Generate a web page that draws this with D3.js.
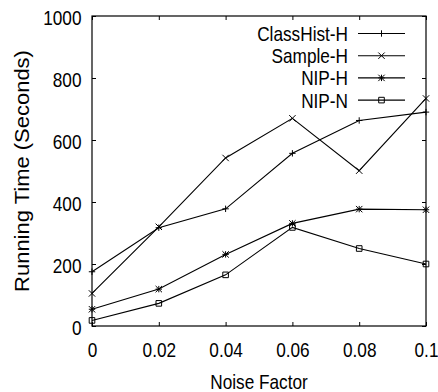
<!DOCTYPE html>
<html>
<head>
<meta charset="utf-8">
<script src="https://cdn.jsdelivr.net/npm/d3@7"></script>
<style>
  body { margin: 0; background: #fff; }
  svg text { font-family: "Liberation Sans", Arial, sans-serif; fill: #000; }
</style>
</head>
<body>
<div id="chart"></div>
<script>
// data
const noise = [0, 0.02, 0.04, 0.06, 0.08, 0.1];
const classHistH = [175, 317, 378, 557, 663, 690];
const sampleH = [105, 320, 542, 670, 501, 734];
const nipH = [54, 119, 231, 331, 377, 375];
const nipN = [18, 73, 165, 318, 250, 200];
const xTicks = [0, 0.02, 0.04, 0.06, 0.08, 0.1];
const yTicks = [0, 200, 400, 600, 800, 1000];

const series = [
  { name: 'ClassHist-H', values: classHistH, mark: 'plus' },
  { name: 'Sample-H', values: sampleH, mark: 'cross' },
  { name: 'NIP-H', values: nipH, mark: 'star' },
  { name: 'NIP-N', values: nipN, mark: 'square' }
];

const W = 438, H = 392;
const margin = { top: 16, right: 12, bottom: 66, left: 92 };
const width = W - margin.left - margin.right;
const height = H - margin.top - margin.bottom;
const squeeze = 0.82; // condensed look of the original font
const fs = 21;

const svg = d3.select('#chart').append('svg')
  .attr('width', W)
  .attr('height', H);

const g = svg.append('g').attr('transform', `translate(${margin.left},${margin.top})`);

const x = d3.scaleLinear().domain([0, 0.1]).range([0, width]);
const y = d3.scaleLinear().domain([0, 1000]).range([height, 0]);

// axes
const fmtX = d => d === 0 ? '0' : d3.format('~g')(d);

const yAxis = g.append('g').call(d3.axisLeft(y).tickValues(yTicks).tickFormat(d3.format('d')).tickSize(-4).tickSizeOuter(0));
yAxis.selectAll('text')
  .attr('x', -10.5 / squeeze)
  .attr('dy', null)
  .attr('y', 8)
  .attr('transform', `scale(${squeeze},1)`)
  .style('font-size', fs + 'px');

const xAxis = g.append('g').attr('transform', `translate(0,${height})`)
  .call(d3.axisBottom(x).tickValues(xTicks).tickFormat(fmtX).tickSize(-4).tickSizeOuter(0));
xAxis.selectAll('text')
  .attr('y', 31)
  .attr('dy', null)
  .attr('transform', `scale(${squeeze},1)`)
  .style('font-size', fs + 'px');

g.append('g').call(d3.axisRight(y).tickValues(yTicks).tickSize(-4).tickFormat(''))
  .attr('transform', `translate(${width},0)`);
g.append('g').call(d3.axisTop(x).tickValues(xTicks).tickSize(-4).tickFormat(''));

g.selectAll('.domain').remove();
g.selectAll('.tick line').attr('stroke', '#000').attr('stroke-width', 1);

g.append('rect')
  .attr('width', width)
  .attr('height', height)
  .attr('fill', 'none')
  .attr('stroke', '#000')
  .attr('stroke-width', 1.2);

// axis titles
svg.append('text')
  .attr('transform', `translate(${margin.left + width / 2},389) scale(${squeeze},1)`)
  .attr('text-anchor', 'middle')
  .style('font-size', fs + 'px')
  .text('Noise Factor');

svg.append('text')
  .attr('transform', `translate(29,${margin.top + height / 2}) rotate(-90) scale(1,0.9)`)
  .attr('text-anchor', 'middle')
  .style('font-size', '22px')
  .text('Running Time (Seconds)');

// marker shapes
function markPath(type) {
  const s = 3.2;
  switch (type) {
    case 'plus': return `M${-s},0H${s}M0,${-s}V${s}`;
    case 'cross': return `M${-s},${-s}L${s},${s}M${-s},${s}L${s},${-s}`;
    case 'star': return `M${-s},0H${s}M0,${-s}V${s}M${-s},${-s}L${s},${s}M${-s},${s}L${s},${-s}`;
    default: return `M${-2.8},${-2.8}H2.8V2.8H-2.8Z`;
  }
}

const line = d3.line()
  .x((d, i) => x(noise[i]))
  .y(d => y(d));

series.forEach(s => {
  g.append('path')
    .attr('d', line(s.values))
    .attr('fill', 'none')
    .attr('stroke', '#000')
    .attr('stroke-width', 1.1);
  g.selectAll(null)
    .data(s.values)
    .join('path')
    .attr('transform', (d, i) => `translate(${x(noise[i])},${y(d)})`)
    .attr('d', markPath(s.mark))
    .attr('fill', 'none')
    .attr('stroke', '#000')
    .attr('stroke-width', 1);
});

// legend
const legend = svg.append('g');
series.forEach((s, i) => {
  const ly = 33.5 + i * 22.2;
  legend.append('text')
    .attr('transform', `translate(348,${ly + 7.5}) scale(${squeeze},1)`)
    .attr('text-anchor', 'end')
    .style('font-size', fs + 'px')
    .text(s.name);
  legend.append('line')
    .attr('x1', 358).attr('x2', 405)
    .attr('y1', ly).attr('y2', ly)
    .attr('stroke', '#000')
    .attr('stroke-width', 1.1);
  legend.append('path')
    .attr('transform', `translate(381.5,${ly})`)
    .attr('d', markPath(s.mark))
    .attr('fill', 'none')
    .attr('stroke', '#000');
});
</script>
</body>
</html>
